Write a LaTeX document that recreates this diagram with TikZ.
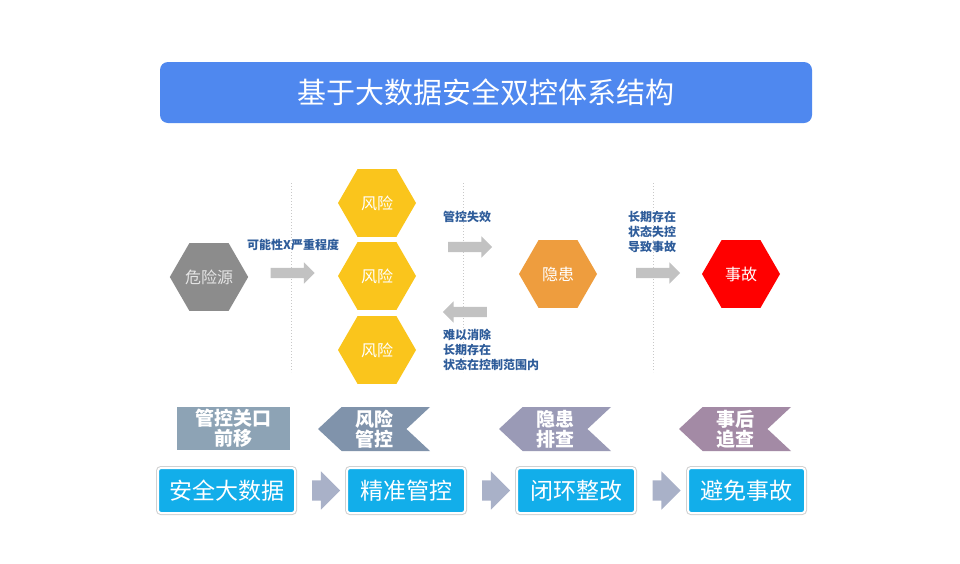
\documentclass[tikz,border=0pt]{standalone}
\usepackage{fontspec}
\setmainfont{Noto Sans CJK SC}
\usepackage{xcolor}
\usepackage{tikz}
\usetikzlibrary{shapes.geometric,shapes.arrows,shapes.symbols,positioning,calc}
\definecolor{titlebg}{HTML}{4F88EF}
\definecolor{srcgray}{HTML}{8C8C8C}
\definecolor{riskyel}{HTML}{FAC51C}
\definecolor{hazorg}{HTML}{EE9D3E}
\definecolor{accred}{HTML}{FF0000}
\definecolor{lblblue}{HTML}{2E5C9A}
\definecolor{arrgray}{HTML}{C2C2C2}
\definecolor{sepgray}{HTML}{C8C8C8}
\definecolor{shiftbg}{HTML}{8DA3B5}
\definecolor{ctrlbg}{HTML}{8093AB}
\definecolor{checkbg}{HTML}{9A9AB6}
\definecolor{tracebg}{HTML}{A38AA5}
\definecolor{stepblue}{HTML}{12AEEA}
\definecolor{smallarr}{HTML}{A9B1C8}

\begin{document}
\begin{tikzpicture}[x=1pt, y=-1pt,
  hexa/.style={regular polygon, regular polygon sides=6, minimum size=78pt, inner sep=0pt,
    text=white, font=\fontsize{16}{18}\selectfont},
  lbl/.style={anchor=west, align=left, text=lblblue, inner sep=0pt,
    font=\fontsize{12}{15}\selectfont\bfseries},
  grayarr/.style={single arrow, fill=arrgray, minimum height=44pt, minimum width=21pt,
    single arrow head extend=5.5pt, single arrow head indent=0pt, inner xsep=0pt, inner ysep=5pt},
  chev/.style={signal, signal to=west, signal from=east, signal pointer angle=86,
    minimum width=112pt, minimum height=44pt, inner sep=0pt, text=white, align=center,
    font=\fontsize{19}{20}\selectfont\bfseries},
  stepbox/.style={rounded corners=3pt, fill=stepblue, draw=white, line width=2pt,
    preaction={draw=black!18, line width=4pt}, minimum height=45pt, inner sep=0pt,
    text=white, font=\fontsize{23}{25}\selectfont},
  steparr/.style={single arrow, fill=smallarr, minimum height=28pt, minimum width=38pt,
    single arrow head extend=9pt, single arrow head indent=0pt, inner xsep=0pt, inner ysep=10pt}]
  \useasboundingbox[fill=white] (0,0) rectangle (960,563);

  % title bar
  \node[fill=titlebg, rounded corners=8pt, minimum width=652pt, minimum height=61pt,
    text=white, font=\fontsize{29}{31}\selectfont] (title) at (486,92.5) {基于大数据安全双控体系结构};

  % dotted separators
  \foreach \xpos in {291, 463, 653} {
    \draw[sepgray, dotted, line width=1pt] (\xpos,183) -- (\xpos,372);
  }

  % hexagons: source, three risks, hidden danger, accident
  \node[hexa, fill=srcgray, text=white!90!black] (src) at (209,277) {危险源};
  \foreach \i/\ypos in {1/203, 2/276, 3/350} {
    \node[hexa, fill=riskyel] (risk\i) at (377,\ypos) {风险};
  }
  \node[hexa, fill=hazorg] (haz) at (558,274) {隐患};
  \node[hexa, fill=accred] (acc) at (741,274) {事故};

  % block arrows between the stages
  \node[grayarr] (arrA) at (290,273) {};
  \node[grayarr] (arrB) at (467.5,247) {};
  \node[grayarr, shape border rotate=180] (arrC) at (467.5,312) {};
  \node[grayarr] (arrD) at (655.5,273) {};

  % stage labels
  \node[lbl] (lblA) at (247,245) {可能性X严重程度};
  \node[lbl] (lblB) at (443,217) {管控失效};
  \node[lbl] (lblC) at (443,350) {难以消除\\长期存在\\状态在控制范围内};
  \node[lbl] (lblD) at (628,232) {长期存在\\状态失控\\导致事故};

  % measure ribbons
  \node[fill=shiftbg, minimum width=113pt, minimum height=43pt, inner sep=0pt, text=white,
    align=center, font=\fontsize{19}{20}\selectfont\bfseries] (shift) at (233.5,428.5) {管控关口\\前移};
  \node[chev, fill=ctrlbg] (ctrl) at (374,429) {风险\\管控};
  \node[chev, fill=checkbg] (check) at (555,429) {隐患\\排查};
  \node[chev, fill=tracebg] (trace) at (735,429) {事后\\追查};

  % process steps
  \node[stepbox, minimum width=137pt] (bigdata) at (226.5,490.5) {安全大数据};
  \node[stepbox, minimum width=118pt] (precise) at (406,490.5) {精准管控};
  \node[stepbox, minimum width=118pt] (closed) at (576,490.5) {闭环整改};
  \node[stepbox, minimum width=117pt] (avoid) at (746.5,490.5) {避免事故};
  \node[steparr] (sa1) at ($(bigdata.east)!0.5!(precise.west)$) {};
  \node[steparr] (sa2) at ($(precise.east)!0.5!(closed.west)$) {};
  \node[steparr] (sa3) at ($(closed.east)!0.5!(avoid.west)$) {};
\end{tikzpicture}
\end{document}
